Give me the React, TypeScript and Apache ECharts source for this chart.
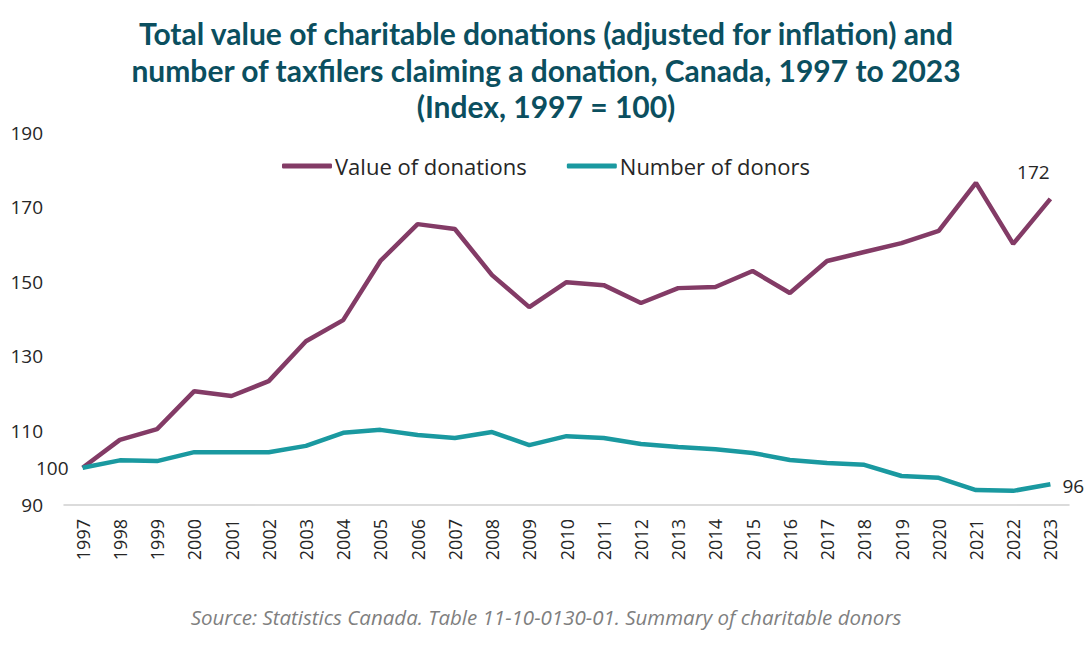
import React, { useEffect, useRef } from "react";
import * as echarts from "echarts";

const years = [
  "1997","1998","1999","2000","2001","2002","2003","2004","2005","2006","2007","2008","2009",
  "2010","2011","2012","2013","2014","2015","2016","2017","2018","2019","2020","2021","2022","2023",
];
const valueOfDonations = [
  100, 107.5, 110.4, 120.6, 119.3, 123.3, 134, 139.7, 155.6, 165.5, 164.2, 151.8, 143.2,
  149.9, 149.1, 144.3, 148.3, 148.6, 152.9, 147, 155.6, 158, 160.4, 163.7, 176.6, 160.2, 172.3,
];
const numberOfDonors = [
  100, 102, 101.8, 104.2, 104.2, 104.2, 105.9, 109.4, 110.2, 108.8, 108, 109.6, 106.1,
  108.5, 108, 106.4, 105.6, 105, 104, 102.1, 101.3, 100.8, 97.8, 97.3, 94, 93.8, 95.6,
];
const yTickLabels = [90, 110, 130, 150, 170, 190];

const titleText =
  "Total value of charitable donations (adjusted for inflation) and\nnumber of taxfilers claiming a donation, Canada, 1997 to 2023\n(Index, 1997 = 100)";
const sourceText = "Source: Statistics Canada. Table 11-10-0130-01. Summary of charitable donors";

const PURPLE = "#833B66";
const TEAL = "#1A99A0";

export default function App() {
  const ref = useRef<HTMLDivElement>(null);
  useEffect(() => {
    document.body.style.margin = "0";
    if (!ref.current) return;
    const chart = echarts.init(ref.current, null, { renderer: "svg" });
    const last = years.length - 1;
    const labelStyle = { color: "#262626", fontSize: 19, fontFamily: "Open Sans" };
    const fmt = (p: any) => String(Math.round(p.value));
    const valueData = valueOfDonations.map((v, i) =>
      i === last
        ? { value: v, label: { show: true, position: "top", offset: [-17, -12], ...labelStyle, formatter: fmt } }
        : v
    );
    const donorData = numberOfDonors.map((v, i) =>
      i === 0
        ? { value: v, label: { show: true, position: "left", distance: 14, ...labelStyle, formatter: fmt } }
        : i === last
        ? { value: v, label: { show: true, position: "right", distance: 12, offset: [0, 2], ...labelStyle, formatter: fmt } }
        : v
    );
    chart.setOption({
      animation: false,
      backgroundColor: "#ffffff",
      title: {
        text: titleText,
        left: "center",
        top: 10,
        textStyle: {
          fontFamily: "Lato",
          fontWeight: "bold",
          fontSize: 30,
          lineHeight: 36.5,
          color: "#0B4F5F",
          align: "center",
        },
      },
      legend: {
        top: 150,
        left: "center",
        icon: "roundRect",
        itemWidth: 50,
        itemHeight: 5,
        itemGap: 40,
        textStyle: { fontFamily: "Open Sans", fontSize: 22, color: "#262626", padding: [0, 0, 0, -2] },
        data: ["Value of donations", "Number of donors"],
      },
      grid: { left: 64, right: 23, top: 133, bottom: 145 },
      xAxis: {
        type: "category",
        data: years,
        boundaryGap: true,
        axisLine: { show: true, lineStyle: { color: "#d0d0d0", width: 1.5 } },
        axisTick: { show: false },
        axisLabel: {
          rotate: 90,
          fontFamily: "Open Sans",
          fontSize: 18,
          color: "#262626",
          margin: 14,
          interval: 0,
        },
      },
      yAxis: {
        type: "value",
        min: 90,
        max: 190,
        interval: 10,
        splitLine: { show: false },
        axisLine: { show: false },
        axisTick: { show: false },
        axisLabel: {
          fontFamily: "Open Sans",
          fontSize: 19,
          color: "#262626",
          margin: 21,
          formatter: (v: number) => (yTickLabels.includes(v) ? String(v) : ""),
        },
      },
      series: [
        {
          name: "Value of donations",
          type: "line",
          data: valueData,
          symbol: "circle",
          symbolSize: 0.1,
          showSymbol: true,
          lineStyle: { color: PURPLE, width: 4.5 },
          itemStyle: { color: PURPLE },
        },
        {
          name: "Number of donors",
          type: "line",
          data: donorData,
          symbol: "circle",
          symbolSize: 0.1,
          showSymbol: true,
          lineStyle: { color: TEAL, width: 4.5 },
          itemStyle: { color: TEAL },
        },
      ],
      graphic: [
        {
          type: "text",
          left: "center",
          top: 607,
          style: {
            text: sourceText,
            fontFamily: "Open Sans",
            fontStyle: "italic",
            fontSize: 20.5,
            fill: "#7f7f7f",
          },
        },
      ],
    });
    return () => chart.dispose();
  }, []);
  return <div ref={ref} style={{ width: 1092, height: 650 }} />;
}
